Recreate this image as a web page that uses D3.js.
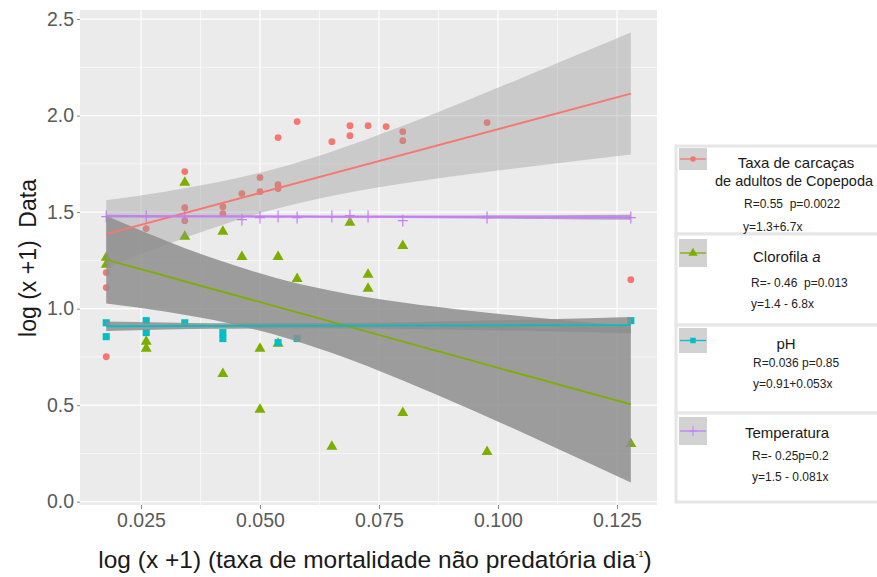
<!DOCTYPE html>
<html>
<head>
<meta charset="utf-8">
<script src="https://cdn.jsdelivr.net/npm/d3@7"></script>
<style>
  body { margin: 0; background: #fff; }
  svg text { font-family: "Liberation Sans", Arial, sans-serif; white-space: pre; }
</style>
</head>
<body>
<div id="chart"></div>
<script>
// values
const xTicks = [0.025, 0.05, 0.075, 0.1, 0.125];
const yTicks = [0, 0.5, 1, 1.5, 2, 2.5];

// Taxa de carcaças de adultos de Copepoda
const carcX = [0.0177, 0.0177, 0.0177, 0.0261, 0.0342, 0.0342, 0.0342, 0.0422, 0.0422, 0.0462, 0.050, 0.050,
               0.0538, 0.0538, 0.0538, 0.0578, 0.0651, 0.0689, 0.0689, 0.0727, 0.0765, 0.080, 0.080, 0.0977, 0.1279];
const carcY = [1.187, 1.109, 0.751, 1.415, 1.710, 1.523, 1.456, 1.528, 1.492, 1.596, 1.679, 1.606,
               1.886, 1.642, 1.622, 1.969, 1.865, 1.948, 1.896, 1.948, 1.943, 1.917, 1.870, 1.964, 1.150];

// Clorofila a
const cloroX = [0.0177, 0.0177, 0.0261, 0.0261, 0.0342, 0.0342, 0.0422, 0.0422, 0.0462, 0.050, 0.050,
                0.0538, 0.0538, 0.0578, 0.0651, 0.0689, 0.0727, 0.0727, 0.080, 0.080, 0.0977, 0.1279];
const cloroY = [1.264, 1.228, 0.829, 0.793, 1.653, 1.373, 1.399, 0.663, 1.269, 0.793, 0.477,
                1.269, 0.819, 1.155, 0.285, 1.446, 1.176, 1.104, 1.326, 0.461, 0.259, 0.300];

// pH
const phX = [0.0177, 0.0177, 0.0261, 0.0261, 0.0342, 0.0422, 0.0422, 0.0538, 0.0578, 0.1279];
const phY = [0.927, 0.855, 0.938, 0.876, 0.927, 0.876, 0.845, 0.824, 0.845, 0.938];

// Temperatura
const tempX = [0.0177, 0.0261, 0.0342, 0.0462, 0.050, 0.0538, 0.0578, 0.0651, 0.0689, 0.0727, 0.080, 0.0977, 0.1279];
const tempY = [1.477, 1.477, 1.477, 1.461, 1.472, 1.477, 1.472, 1.477, 1.482, 1.477, 1.456, 1.472, 1.472];

// fitted lines (ends) and confidence bands
const fitX = [0.0177, 0.1279];
const carcFit = [1.386, 2.114];
const cloroFit = [1.254, 0.504];
const phFit = [0.909, 0.915];
const tempFit = [1.479, 1.473];

const bandX = [0.0177, 0.03, 0.04, 0.053, 0.065, 0.08, 0.095, 0.11, 0.1279];
const carcLo = [1.211, 1.329, 1.417, 1.515, 1.584, 1.648, 1.700, 1.746, 1.798];
const carcHi = [1.561, 1.606, 1.649, 1.723, 1.813, 1.947, 2.094, 2.246, 2.430];
const cloroLo = [1.027, 0.985, 0.942, 0.866, 0.771, 0.628, 0.470, 0.303, 0.100];
const cloroHi = [1.481, 1.355, 1.262, 1.162, 1.093, 1.032, 0.987, 0.949, 0.908];
const phLo = [0.884, 0.892, 0.896, 0.898, 0.898, 0.894, 0.889, 0.883, 0.873];
const phHi = [0.934, 0.928, 0.924, 0.924, 0.926, 0.930, 0.937, 0.945, 0.957];
const tempLo = [1.472, 1.472, 1.473, 1.472, 1.471, 1.470, 1.467, 1.464, 1.460];
const tempHi = [1.486, 1.484, 1.483, 1.482, 1.481, 1.482, 1.483, 1.484, 1.486];

const legendTitles = [["Taxa de carcaças", "de adultos de Copepoda"], ["Clorofila "], ["pH"], ["Temperatura"]];
const legendStats = ["R=0.55  p=0.0022", "R=- 0.46  p=0.013", "R=0.036 p=0.85", "R=- 0.25p=0.2"];
const legendEqs = ["y=1.3+6.7x", "y=1.4 - 6.8x", "y=0.91+0.053x", "y=1.5 - 0.081x"];

const colRed = "#F8766D", colGreen = "#7CAE00", colCyan = "#00BFC4", colPurple = "#C77CFF";

// 1: SVG
const W = 877, H = 577;
const panel = { left: 80, right: 657, top: 10, bottom: 505 };

const svg = d3.select("#chart").append("svg")
    .attr("width", W)
    .attr("height", H);

// 2: SCALES
const x = d3.scaleLinear().domain([0.01219, 0.1334]).range([panel.left, panel.right]);
const y = d3.scaleLinear().domain([-0.017, 2.547]).range([panel.bottom, panel.top]);

// 3: PANEL + GRID
svg.append("rect")
    .attr("x", panel.left).attr("y", panel.top)
    .attr("width", panel.right - panel.left).attr("height", panel.bottom - panel.top)
    .attr("fill", "#EBEBEB");

const grid = svg.append("g");
const xMinor = xTicks.slice(0, -1).map((d, i) => (d + xTicks[i + 1]) / 2);
const yMinor = yTicks.slice(0, -1).map((d, i) => (d + yTicks[i + 1]) / 2);

grid.selectAll(".xminor").data(xMinor).enter().append("line")
    .attr("x1", d => x(d)).attr("x2", d => x(d))
    .attr("y1", panel.top).attr("y2", panel.bottom)
    .attr("stroke", "#fff").attr("stroke-width", 0.6);
grid.selectAll(".yminor").data(yMinor).enter().append("line")
    .attr("y1", d => y(d)).attr("y2", d => y(d))
    .attr("x1", panel.left).attr("x2", panel.right)
    .attr("stroke", "#fff").attr("stroke-width", 0.6);
grid.selectAll(".xmajor").data(xTicks).enter().append("line")
    .attr("x1", d => x(d)).attr("x2", d => x(d))
    .attr("y1", panel.top).attr("y2", panel.bottom)
    .attr("stroke", "#fff").attr("stroke-width", 1.2);
grid.selectAll(".ymajor").data(yTicks).enter().append("line")
    .attr("y1", d => y(d)).attr("y2", d => y(d))
    .attr("x1", panel.left).attr("x2", panel.right)
    .attr("stroke", "#fff").attr("stroke-width", 1.2);

// 4: POINTS
const pts = svg.append("g");
const zip = (xs, ys) => xs.map((d, i) => ({ x: d, y: ys[i] }));

pts.selectAll(".carc").data(zip(carcX, carcY)).enter().append("circle")
    .attr("cx", d => x(d.x)).attr("cy", d => y(d.y)).attr("r", 3.4)
    .attr("fill", colRed);

pts.selectAll(".cloro").data(zip(cloroX, cloroY)).enter().append("path")
    .attr("d", d3.symbol(d3.symbolTriangle).size(52))
    .attr("transform", d => `translate(${x(d.x)},${y(d.y)})`)
    .attr("fill", colGreen);

pts.selectAll(".ph").data(zip(phX, phY)).enter().append("path")
    .attr("d", d3.symbol(d3.symbolSquare).size(50))
    .attr("transform", d => `translate(${x(d.x)},${y(d.y)})`)
    .attr("fill", colCyan);

pts.selectAll(".temp").data(zip(tempX, tempY)).enter().append("path")
    .attr("d", "M-5,0H5M0,-6V6")
    .attr("transform", d => `translate(${x(d.x)},${y(d.y)})`)
    .attr("stroke", colPurple).attr("stroke-width", 1.2).attr("fill", "none");

// 5: CONFIDENCE BANDS
const band = (lo, hi) => d3.area()
    .x((d, i) => x(bandX[i]))
    .y0((d, i) => y(lo[i]))
    .y1((d, i) => y(hi[i]))
    .curve(d3.curveMonotoneX)(bandX);

svg.append("path").attr("d", band(carcLo, carcHi)).attr("fill", "#999").attr("opacity", 0.4);
svg.append("path").attr("d", band(cloroLo, cloroHi)).attr("fill", "#8e8e8e").attr("opacity", 0.85);
svg.append("path").attr("d", band(phLo, phHi)).attr("fill", "#8e8e8e").attr("opacity", 0.85);
svg.append("path").attr("d", band(tempLo, tempHi)).attr("fill", "#a890b8").attr("opacity", 0.8);

// 6: FIT LINES
const fitLine = (vals, col) => svg.append("line")
    .attr("x1", x(fitX[0])).attr("y1", y(vals[0]))
    .attr("x2", x(fitX[1])).attr("y2", y(vals[1]))
    .attr("stroke", col).attr("stroke-width", 1.8);

fitLine(carcFit, colRed);
fitLine(cloroFit, colGreen);
fitLine(phFit, colCyan);
fitLine(tempFit, colPurple);

// 7: AXES
const xAxis = svg.append("g")
    .attr("transform", `translate(0,${panel.bottom})`)
    .call(d3.axisBottom(x).tickValues(xTicks).tickFormat(d3.format(".3f")).tickSize(4).tickPadding(4));
const yAxis = svg.append("g")
    .attr("transform", `translate(${panel.left},0)`)
    .call(d3.axisLeft(y).tickValues(yTicks).tickFormat(d3.format(".1f")).tickSize(3).tickPadding(3));

[xAxis, yAxis].forEach(a => {
    a.select(".domain").remove();
    a.selectAll(".tick line").attr("stroke", "#888");
    a.selectAll(".tick text").attr("fill", "#5a5a5a").style("font-size", "19.5px");
});

// axis titles
svg.append("text")
    .attr("transform", "translate(36,258) rotate(-90)")
    .attr("text-anchor", "middle")
    .style("font-size", "23px").attr("fill", "#1a1a1a")
    .text("log (x +1)  Data");

const xTitle = svg.append("text")
    .attr("x", 375).attr("y", 568)
    .attr("text-anchor", "middle")
    .style("font-size", "24.5px").attr("fill", "#1a1a1a");
xTitle.append("tspan").text("log (x +1) (taxa de mortalidade não predatória dia");
xTitle.append("tspan").attr("dy", -11).style("font-size", "9px").text("-1");
xTitle.append("tspan").attr("dy", 11).text(")");

// 8: LEGEND
const legend = svg.append("g");
const boxes = [{ y: 146, h: 88 }, { y: 234, h: 91 }, { y: 325, h: 88 }, { y: 413, h: 89 }];
const keys = [
    { y: 148, h: 22, col: colRed, mark: "circle" },
    { y: 239, h: 28, col: colGreen, mark: "triangle" },
    { y: 328, h: 25, col: colCyan, mark: "square" },
    { y: 417, h: 28, col: colPurple, mark: "cross" }
];

boxes.forEach(b => {
    legend.append("rect")
        .attr("x", 676).attr("y", b.y).attr("width", 215).attr("height", b.h)
        .attr("fill", "#fff").attr("stroke", "#e6e6e6").attr("stroke-width", 3);
});

keys.forEach(k => {
    const cy = k.y + k.h / 2;
    legend.append("rect")
        .attr("x", 679).attr("y", k.y).attr("width", 28).attr("height", k.h)
        .attr("fill", "#d2d2d2");
    legend.append("line")
        .attr("x1", 680).attr("x2", 706).attr("y1", cy).attr("y2", cy)
        .attr("stroke", k.col).attr("stroke-width", 1.3);
    if (k.mark === "circle") {
        legend.append("circle").attr("cx", 693).attr("cy", cy).attr("r", 2.8).attr("fill", k.col);
    } else if (k.mark === "triangle") {
        legend.append("path").attr("d", d3.symbol(d3.symbolTriangle).size(36))
            .attr("transform", `translate(693,${cy})`).attr("fill", k.col);
    } else if (k.mark === "square") {
        legend.append("path").attr("d", d3.symbol(d3.symbolSquare).size(30))
            .attr("transform", `translate(693,${cy})`).attr("fill", k.col);
    } else {
        legend.append("path").attr("d", "M-4,0H4M0,-5V5")
            .attr("transform", `translate(693,${cy})`)
            .attr("stroke", k.col).attr("stroke-width", 1).attr("fill", "none");
    }
});

const titlePos = [[{ x: 796, y: 168 }, { x: 794, y: 186 }], [{ x: 753, y: 262 }], [{ x: 786, y: 349 }], [{ x: 787, y: 438 }]];
const statPos = [{ x: 744, y: 208 }, { x: 751, y: 287 }, { x: 753, y: 367 }, { x: 752, y: 460 }];
const eqPos = [{ x: 743, y: 231 }, { x: 751, y: 308 }, { x: 753, y: 388 }, { x: 752, y: 481 }];

legendTitles.forEach((lines, i) => {
    lines.forEach((s, j) => {
        const p = titlePos[i][j];
        const t = legend.append("text")
            .attr("x", p.x).attr("y", p.y)
            .attr("text-anchor", i === 1 ? "start" : "middle")
            .style("font-size", j === 1 ? "14.5px" : "15px").attr("fill", "#1a1a1a")
            .text(s);
        if (i === 1) t.append("tspan").style("font-style", "italic").text("a");
    });
    legend.append("text")
        .attr("x", statPos[i].x).attr("y", statPos[i].y)
        .style("font-size", "12px").attr("fill", "#222")
        .text(legendStats[i]);
    legend.append("text")
        .attr("x", eqPos[i].x).attr("y", eqPos[i].y)
        .style("font-size", "12px").attr("fill", "#222")
        .text(legendEqs[i]);
});
</script>
</body>
</html>
